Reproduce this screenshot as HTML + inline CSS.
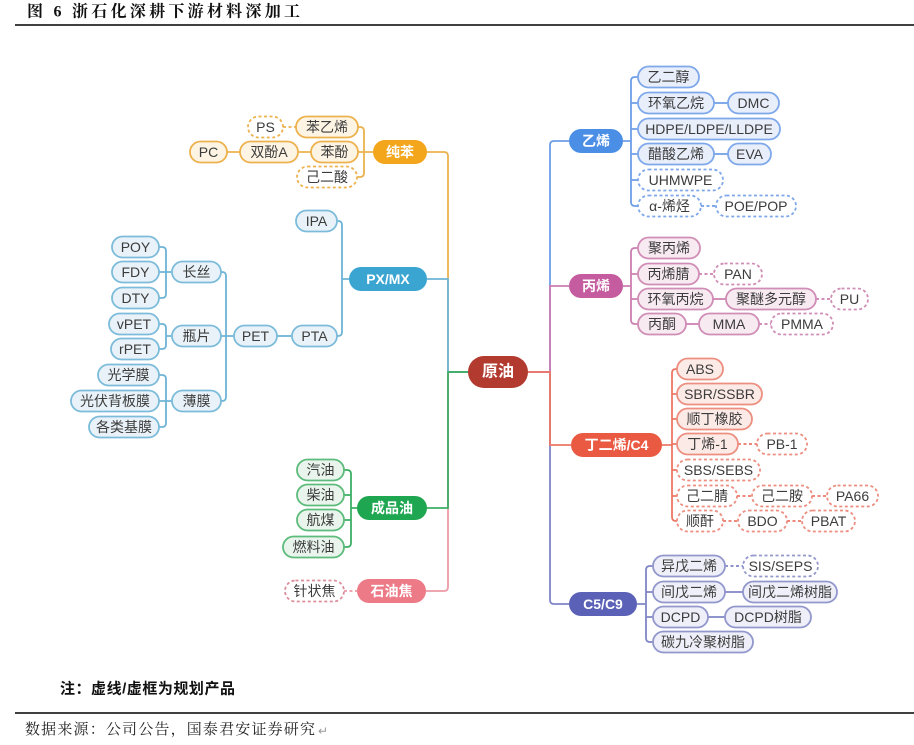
<!DOCTYPE html>
<html><head><meta charset="utf-8">
<style>
html,body{margin:0;padding:0;background:#fff;}
svg{display:block;}
text{font-family:"Liberation Sans","Noto Sans CJK SC",sans-serif;font-size:14px;fill:#3c3c3c;text-anchor:middle;dominant-baseline:central;}
text.m{fill:#fff;font-weight:bold;}
rect{stroke-width:1.8;}
path{fill:none;stroke-width:1.8;}
.dl{stroke-dasharray:3 2.5;}
rect.d{fill:#fff;stroke-dasharray:3 2.5;}
rect.o{fill:#FDF4E4;stroke:#EDB24E;} rect.od{stroke:#EDB24E;} path.o{stroke:#EDB24E;}
rect.t{fill:#E9F2F8;stroke:#7CBCDA;} path.t{stroke:#6DB4D6;}
rect.g{fill:#E9F5EC;stroke:#5DBB7B;} path.g{stroke:#3DAF64;}
rect.pd{stroke:#DC8E9B;} path.p{stroke:#EC9AA6;}
rect.b{fill:#E8EFFB;stroke:#7FA8EA;} rect.bd{stroke:#7FA8EA;} path.b{stroke:#6E9EE8;}
rect.v{fill:#F8EAF1;stroke:#D08DB6;} rect.vd{stroke:#D08DB6;} path.v{stroke:#CD7EB1;}
rect.r{fill:#FCEAE6;stroke:#EC8E80;} rect.rd{stroke:#EC8E80;} path.r{stroke:#EB7765;}
rect.u{fill:#EEEFF8;stroke:#9297CC;} rect.ud{stroke:#9297CC;} path.u{stroke:#8085C6;}
</style></head>
<body>
<svg width="914" height="745" viewBox="0 0 914 745" xmlns="http://www.w3.org/2000/svg">

<text x="27" y="12" textLength="273" lengthAdjust="spacing" style="text-anchor:start;font-family:'Liberation Serif','Noto Serif CJK SC',serif;font-weight:bold;font-size:16px;fill:#111;">图 6  浙石化深耕下游材料深加工</text>
<line x1="15" y1="25" x2="914" y2="25" stroke="#000" stroke-width="1.5"/>

<path class="o" d="M427,152 H444 Q448,152 448,156 V372 H468"/>
<path class="p" d="M426,591 H444 Q448,591 448,587 V372 H468"/>
<path class="t" d="M427,279 H448 V372 H468"/>
<path class="g" d="M427,508 H448 V372 H468"/>

<path class="b" d="M528,372 H550 V145 Q550,141 554,141 H569"/>
<path class="u" d="M528,372 H550 V600 Q550,604 554,604 H569"/>
<path class="v" d="M528,372 H550 V286 H569"/>
<path class="r" d="M528,372 H550 V445 H571"/>

<rect x="468" y="356" width="60" height="32" rx="16" fill="#B23A2E" style="stroke:none"/>
<text class="m" x="498" y="372" style="font-size:16px">原油</text>

<path class="o" d="M358,127 H360 Q364,127 364,131 V173 Q364,177 360,177 H357 M358,152 H373"/>
<path class="o dl" d="M283,127 H296"/>
<path class="o" d="M227,152 H240 M298,152 H311"/>
<rect x="373" y="140" width="54" height="24" rx="12" fill="#F3A61C" style="stroke:none"/>
<text class="m" x="400" y="152">纯苯</text>
<rect class="o" x="296" y="116.5" width="62" height="21" rx="10.5"/><text x="327" y="127">苯乙烯</text>
<rect class="d od" x="248" y="116.5" width="35" height="21" rx="10.5"/><text x="265.5" y="127">PS</text>
<rect class="o" x="311" y="141.5" width="47" height="21" rx="10.5"/><text x="334.5" y="152">苯酚</text>
<rect class="o" x="240" y="141.5" width="58" height="21" rx="10.5"/><text x="269" y="152">双酚A</text>
<rect class="o" x="190" y="141.5" width="37" height="21" rx="10.5"/><text x="208.5" y="152">PC</text>
<rect class="d od" x="297" y="166.5" width="60" height="21" rx="10.5"/><text x="327" y="177">己二酸</text>

<path class="t" d="M337,221 H338 Q342,221 342,225 V332 Q342,336 338,336 H337 M342,279 H349"/>
<path class="t" d="M277,336 H292"/>
<path class="t" d="M221,272 H222 Q226,272 226,276 V397 Q226,401 222,401 H221 M221,336 H234"/>
<path class="t" d="M159,247 H162 Q166,247 166,251 V294 Q166,298 162,298 H159 M159,272 H172"/>
<path class="t" d="M159,324 H162 Q166,324 166,328 V345 Q166,349 162,349 H159 M166,336 H172"/>
<path class="t" d="M159,375 H162 Q166,375 166,379 V423 Q166,427 162,427 H159 M159,401 H172"/>
<rect x="349" y="267" width="78" height="24" rx="12" fill="#3BA5D2" style="stroke:none"/>
<text class="m" x="388" y="279">PX/MX</text>
<rect class="t" x="296" y="210.5" width="41" height="21" rx="10.5"/><text x="316.5" y="221">IPA</text>
<rect class="t" x="292" y="325.5" width="45" height="21" rx="10.5"/><text x="314.5" y="336">PTA</text>
<rect class="t" x="234" y="325.5" width="43" height="21" rx="10.5"/><text x="255.5" y="336">PET</text>
<rect class="t" x="172" y="261.5" width="49" height="21" rx="10.5"/><text x="196.5" y="272">长丝</text>
<rect class="t" x="172" y="325.5" width="49" height="21" rx="10.5"/><text x="196.5" y="336">瓶片</text>
<rect class="t" x="172" y="390.5" width="49" height="21" rx="10.5"/><text x="196.5" y="401">薄膜</text>
<rect class="t" x="112" y="236.5" width="47" height="21" rx="10.5"/><text x="135.5" y="247">POY</text>
<rect class="t" x="112" y="261.5" width="47" height="21" rx="10.5"/><text x="135.5" y="272">FDY</text>
<rect class="t" x="112" y="287.5" width="47" height="21" rx="10.5"/><text x="135.5" y="298">DTY</text>
<rect class="t" x="109" y="313.5" width="50" height="21" rx="10.5"/><text x="134" y="324">vPET</text>
<rect class="t" x="111" y="338.5" width="48" height="21" rx="10.5"/><text x="135" y="349">rPET</text>
<rect class="t" x="98" y="364.5" width="61" height="21" rx="10.5"/><text x="128.5" y="375">光学膜</text>
<rect class="t" x="71" y="390.5" width="88" height="21" rx="10.5"/><text x="115" y="401">光伏背板膜</text>
<rect class="t" x="89" y="416.5" width="70" height="21" rx="10.5"/><text x="124" y="427">各类基膜</text>

<path class="g" d="M344,470 H347 Q351,470 351,474 V543 Q351,547 347,547 H344 M344,495 H351 M344,520 H351 M351,508 H357"/>
<rect x="357" y="496" width="70" height="24" rx="12" fill="#1FA651" style="stroke:none"/>
<text class="m" x="392" y="508">成品油</text>
<rect class="g" x="297" y="459.5" width="47" height="21" rx="10.5"/><text x="320.5" y="470">汽油</text>
<rect class="g" x="297" y="484.5" width="47" height="21" rx="10.5"/><text x="320.5" y="495">柴油</text>
<rect class="g" x="297" y="509.5" width="47" height="21" rx="10.5"/><text x="320.5" y="520">航煤</text>
<rect class="g" x="283" y="536.5" width="61" height="21" rx="10.5"/><text x="313.5" y="547">燃料油</text>

<path class="p dl" d="M344,591 H357"/>
<rect x="357" y="579" width="69" height="24" rx="12" fill="#EC7A87" style="stroke:none"/>
<text class="m" x="391.5" y="591">石油焦</text>
<rect class="d pd" x="285" y="580.5" width="59" height="21" rx="10.5"/><text x="314.5" y="591">针状焦</text>

<path class="b" d="M638,77 H635 Q631,77 631,81 V202 Q631,206 635,206 H638 M631,103 H638 M631,129 H638 M631,154 H638 M631,180 H638 M623,141 H631"/>
<path class="b" d="M714,103 H728 M714,154 H728"/>
<path class="b dl" d="M701,206 H716"/>
<rect x="569" y="129" width="54" height="24" rx="12" fill="#4B8EE6" style="stroke:none"/>
<text class="m" x="596" y="141">乙烯</text>
<rect class="b" x="638" y="66.5" width="61" height="21" rx="10.5"/><text x="668.5" y="77">乙二醇</text>
<rect class="b" x="638" y="92.5" width="76" height="21" rx="10.5"/><text x="676" y="103">环氧乙烷</text>
<rect class="b" x="728" y="92.5" width="51" height="21" rx="10.5"/><text x="753.5" y="103">DMC</text>
<rect class="b" x="638" y="118.5" width="142" height="21" rx="10.5"/><text x="709" y="129">HDPE/LDPE/LLDPE</text>
<rect class="b" x="638" y="143.5" width="76" height="21" rx="10.5"/><text x="676" y="154">醋酸乙烯</text>
<rect class="b" x="728" y="143.5" width="43" height="21" rx="10.5"/><text x="749.5" y="154">EVA</text>
<rect class="d bd" x="638" y="169.5" width="85" height="21" rx="10.5"/><text x="680.5" y="180">UHMWPE</text>
<rect class="d bd" x="638" y="195.5" width="63" height="21" rx="10.5"/><text x="669.5" y="206">α-烯烃</text>
<rect class="d bd" x="716" y="195.5" width="80" height="21" rx="10.5"/><text x="756" y="206">POE/POP</text>

<path class="v" d="M638,248 H635 Q631,248 631,252 V320 Q631,324 635,324 H638 M631,274 H638 M631,299 H638 M623,286 H631"/>
<path class="v" d="M713,299 H726 M686,324 H699"/>
<path class="v dl" d="M699,274 H714 M816,299 H831 M759,324 H771"/>
<rect x="569" y="274" width="54" height="24" rx="12" fill="#C45C9F" style="stroke:none"/>
<text class="m" x="596" y="286">丙烯</text>
<rect class="v" x="638" y="237.5" width="62" height="21" rx="10.5"/><text x="669" y="248">聚丙烯</text>
<rect class="v" x="638" y="263.5" width="61" height="21" rx="10.5"/><text x="668.5" y="274">丙烯腈</text>
<rect class="d vd" x="714" y="263.5" width="48" height="21" rx="10.5"/><text x="738" y="274">PAN</text>
<rect class="v" x="638" y="288.5" width="75" height="21" rx="10.5"/><text x="675.5" y="299">环氧丙烷</text>
<rect class="v" x="726" y="288.5" width="90" height="21" rx="10.5"/><text x="771" y="299">聚醚多元醇</text>
<rect class="d vd" x="831" y="288.5" width="37" height="21" rx="10.5"/><text x="849.5" y="299">PU</text>
<rect class="v" x="638" y="313.5" width="48" height="21" rx="10.5"/><text x="662" y="324">丙酮</text>
<rect class="v" x="699" y="313.5" width="60" height="21" rx="10.5"/><text x="729" y="324">MMA</text>
<rect class="d vd" x="771" y="313.5" width="62" height="21" rx="10.5"/><text x="802" y="324">PMMA</text>

<path class="r" d="M677,369 H676 Q672,369 672,373 V517 Q672,521 676,521 H677 M672,394 H677 M672,419 H677 M672,444 H677 M672,470 H677 M672,496 H677 M662,445 H672"/>
<path class="r dl" d="M738,444 H757 M737,496 H752 M812,496 H827 M723,521 H738 M787,521 H802"/>
<rect x="571" y="433" width="91" height="24" rx="12" fill="#EA5A43" style="stroke:none"/>
<text class="m" x="616.5" y="445">丁二烯/C4</text>
<rect class="r" x="677" y="358.5" width="46" height="21" rx="10.5"/><text x="700" y="369">ABS</text>
<rect class="r" x="677" y="383.5" width="85" height="21" rx="10.5"/><text x="719.5" y="394">SBR/SSBR</text>
<rect class="r" x="677" y="408.5" width="75" height="21" rx="10.5"/><text x="714.5" y="419">顺丁橡胶</text>
<rect class="r" x="677" y="433.5" width="61" height="21" rx="10.5"/><text x="707.5" y="444">丁烯-1</text>
<rect class="d rd" x="757" y="433.5" width="50" height="21" rx="10.5"/><text x="782" y="444">PB-1</text>
<rect class="d rd" x="677" y="459.5" width="83" height="21" rx="10.5"/><text x="718.5" y="470">SBS/SEBS</text>
<rect class="d rd" x="677" y="485.5" width="60" height="21" rx="10.5"/><text x="707" y="496">己二腈</text>
<rect class="d rd" x="752" y="485.5" width="60" height="21" rx="10.5"/><text x="782" y="496">己二胺</text>
<rect class="d rd" x="827" y="485.5" width="51" height="21" rx="10.5"/><text x="852.5" y="496">PA66</text>
<rect class="d rd" x="677" y="510.5" width="46" height="21" rx="10.5"/><text x="700" y="521">顺酐</text>
<rect class="d rd" x="738" y="510.5" width="49" height="21" rx="10.5"/><text x="762.5" y="521">BDO</text>
<rect class="d rd" x="802" y="510.5" width="53" height="21" rx="10.5"/><text x="828.5" y="521">PBAT</text>

<path class="u" d="M653,566 H650 Q646,566 646,570 V638 Q646,642 650,642 H653 M646,592 H653 M646,617 H653 M637,604 H646"/>
<path class="u" d="M725,592 H743 M708,617 H725"/>
<path class="u dl" d="M725,566 H743"/>
<rect x="569" y="592" width="68" height="24" rx="12" fill="#5B61B7" style="stroke:none"/>
<text class="m" x="603" y="604">C5/C9</text>
<rect class="u" x="653" y="555.5" width="72" height="21" rx="10.5"/><text x="689" y="566">异戊二烯</text>
<rect class="d ud" x="743" y="555.5" width="75" height="21" rx="10.5"/><text x="780.5" y="566">SIS/SEPS</text>
<rect class="u" x="653" y="581.5" width="72" height="21" rx="10.5"/><text x="689" y="592">间戊二烯</text>
<rect class="u" x="743" y="581.5" width="94" height="21" rx="10.5"/><text x="790" y="592">间戊二烯树脂</text>
<rect class="u" x="653" y="606.5" width="55" height="21" rx="10.5"/><text x="680.5" y="617">DCPD</text>
<rect class="u" x="725" y="606.5" width="86" height="21" rx="10.5"/><text x="768" y="617">DCPD树脂</text>
<rect class="u" x="653" y="631.5" width="100" height="21" rx="10.5"/><text x="703" y="642">碳九冷聚树脂</text>

<text x="60" y="689" textLength="175" lengthAdjust="spacing" style="text-anchor:start;font-family:'Liberation Sans','Noto Sans CJK SC',sans-serif;font-weight:bold;font-size:15px;fill:#111;">注：虚线/虚框为规划产品</text>
<line x1="15" y1="713" x2="914" y2="713" stroke="#000" stroke-width="1.4"/>
<text x="25" y="730" textLength="290" lengthAdjust="spacing" style="text-anchor:start;font-family:'Liberation Serif','Noto Serif CJK SC',serif;font-size:15px;fill:#222;">数据来源：公司公告，国泰君安证券研究</text>
<text x="323" y="731" style="font-size:12px;fill:#999;">↵</text>
</svg>
</body></html>
